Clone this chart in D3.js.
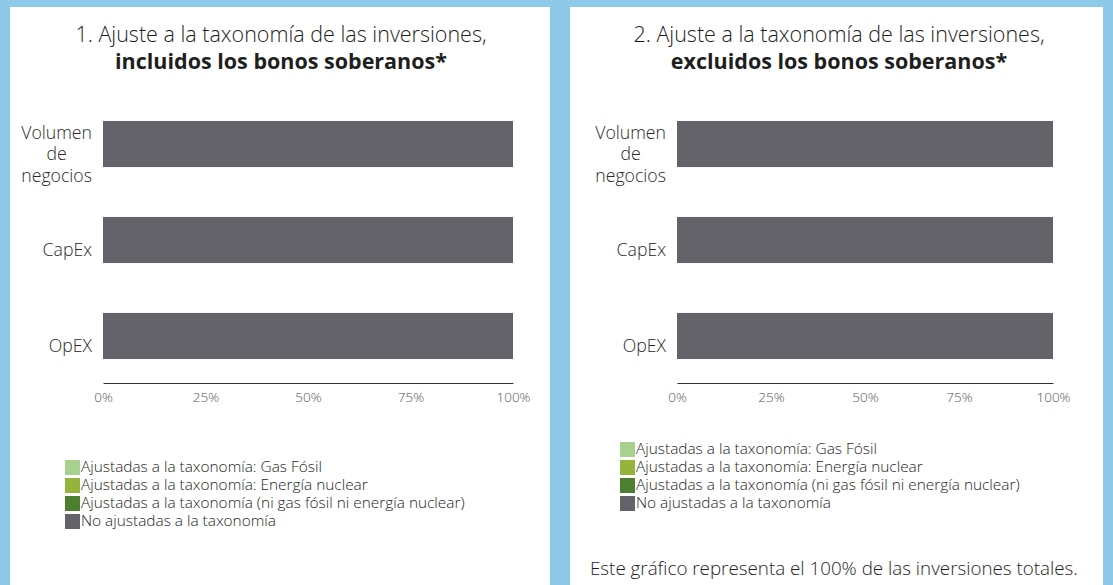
<!DOCTYPE html>
<html>
<head>
<meta charset="utf-8">
<script src="https://cdn.jsdelivr.net/npm/d3@7"></script>
<style>
  body { margin: 0; background: #8dcaea; }
  svg { display: block; font-family: "Open Sans", "Noto Sans", sans-serif; }
</style>
</head>
<body>
<div id="chart"></div>
<script>
// Data
const categories = ["Volumen de negocios", "CapEx", "OpEX"];
const seriesNames = [
    "Ajustadas a la taxonomía: Gas Fósil",
    "Ajustadas a la taxonomía: Energía nuclear",
    "Ajustadas a la taxonomía (ni gas fósil ni energía nuclear)",
    "No ajustadas a la taxonomía"
];
const seriesColors = ["#a9d18e", "#94b43b", "#4c7f2f", "#636369"];

// % per category, one array per series (chart 1: incl. sovereign bonds)
const gasFosil1 = [0, 0, 0];
const nuclear1 = [0, 0, 0];
const otras1 = [0, 0, 0];
const noAjustadas1 = [100, 100, 100];

// chart 2: excl. sovereign bonds
const gasFosil2 = [0, 0, 0];
const nuclear2 = [0, 0, 0];
const otras2 = [0, 0, 0];
const noAjustadas2 = [100, 100, 100];

const tickValues = [0, 25, 50, 75, 100];

const W = 1113, H = 585;

const svg = d3.select("#chart").append("svg")
    .attr("width", W)
    .attr("height", H);

function buildRows(series) {
    return categories.map(function(c, i) {
        let row = { cat: c };
        seriesNames.forEach(function(s, j) { row[s] = series[j][i]; });
        return row;
    });
}

function drawPanel(p) {
    let g = svg.append("g");

    // white card
    g.append("rect")
        .attr("x", p.x0).attr("y", 7)
        .attr("width", p.x1 - p.x0).attr("height", H)
        .attr("fill", "#fff");

    // title
    let title = g.append("text")
        .attr("x", p.titleX)
        .attr("text-anchor", "middle")
        .attr("fill", "#1e1e1e")
        .style("font-size", "21.5px");
    title.append("tspan").attr("x", p.titleX).attr("y", 42).style("font-weight", 300).text(p.title1);
    title.append("tspan").attr("x", p.titleX).attr("y", 69).style("font-weight", 700).text(p.title2);

    let x = d3.scaleLinear().domain([0, 100]).range([p.left, p.right]);
    let y = d3.scaleBand().domain(categories).range([97, 383])
        .paddingInner(0.52).paddingOuter(0.25);

    let rows = buildRows(p.series);
    let stacked = d3.stack().keys(seriesNames)(rows);

    g.selectAll(".layer")
        .data(stacked)
        .enter().append("g")
        .attr("class", "layer")
        .attr("fill", function(d, i) { return seriesColors[i]; })
        .selectAll("rect")
        .data(function(d) { return d; })
        .enter().append("rect")
        .attr("x", function(d) { return x(d[0]); })
        .attr("y", function(d) { return y(d.data.cat); })
        .attr("width", function(d) { return x(d[1]) - x(d[0]); })
        .attr("height", y.bandwidth());

    // x axis
    let xAxis = d3.axisBottom(x)
        .tickValues(tickValues)
        .tickSize(0)
        .tickPadding(9)
        .tickFormat(function(d) { return d + "%"; });

    let ax = g.append("g")
        .attr("transform", "translate(0,383)")
        .call(xAxis);
    ax.select(".domain").attr("stroke", "#333").attr("stroke-width", 1.2);
    ax.selectAll("text")
        .attr("fill", "#555")
        .style("font-size", "13.5px")
        .style("font-weight", 300)
        .style("font-family", "'Open Sans', sans-serif");

    // category labels, lines centered within a right-aligned block
    let labelLines = { "Volumen de negocios": ["Volumen", "de", "negocios"] };
    categories.forEach(function(c) {
        let lines = labelLines[c] || [c];
        let cy = y(c) + y.bandwidth() / 2 + 10;
        let t = g.append("text")
            .attr("fill", "#2a2a2a")
            .attr("text-anchor", "middle")
            .style("font-size", "17.7px")
            .style("font-weight", 300);
        let spans = lines.map(function(l, i) {
            return t.append("tspan")
                .attr("y", cy + (i - (lines.length - 1) / 2) * 21.5 + 6)
                .text(l);
        });
        let maxW = d3.max(spans, function(s) { return s.node().getComputedTextLength(); });
        spans.forEach(function(s) { s.attr("x", p.left - 11 - maxW / 2); });
    });

    // legend
    let leg = g.append("g").attr("transform", "translate(" + p.legX + "," + p.legY + ")");
    seriesNames.forEach(function(s, i) {
        leg.append("rect")
            .attr("x", 0).attr("y", i * 18 - 7)
            .attr("width", 15).attr("height", 15)
            .attr("fill", seriesColors[i]);
        leg.append("text")
            .attr("x", 16).attr("y", i * 18 + 5)
            .attr("fill", "#1e1e1e")
            .style("font-size", "15.4px")
            .style("font-weight", 300)
            .text(s);
    });
}

drawPanel({
    x0: 10, x1: 550, titleX: 281, left: 103, right: 513, legX: 65, legY: 467,
    title1: "1. Ajuste a la taxonomía de las inversiones,",
    title2: "incluidos los bonos soberanos*",
    series: [gasFosil1, nuclear1, otras1, noAjustadas1]
});

drawPanel({
    x0: 570, x1: 1103, titleX: 839, left: 677, right: 1053, legX: 620, legY: 449,
    title1: "2. Ajuste a la taxonomía de las inversiones,",
    title2: "excluidos los bonos soberanos*",
    series: [gasFosil2, nuclear2, otras2, noAjustadas2]
});

svg.append("text")
    .attr("x", 590).attr("y", 575)
    .attr("fill", "#1e1e1e")
    .style("font-size", "18.8px")
    .style("font-weight", 300)
    .text("Este gráfico representa el 100% de las inversiones totales.");
</script>
</body>
</html>
